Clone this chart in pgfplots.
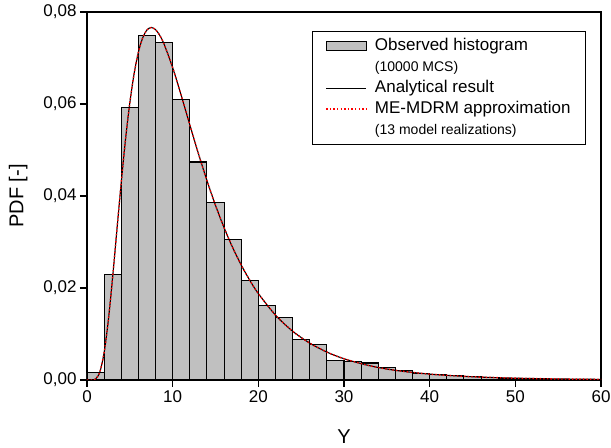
\documentclass[border=0pt]{standalone}
\usepackage{fontspec}
\setmainfont{Liberation Sans}
\usepackage{pgfplots}
\pgfplotsset{compat=1.18}
\definecolor{bargray}{RGB}{192,192,192}
\pgfplotsset{
  barlegend/.style={legend image code/.code={\draw[fill=bargray, draw=black, line width=1.1bp] (0bp,-4.5bp) rectangle (40bp,4.5bp);}},
  blacklegend/.style={legend image code/.code={\draw[draw=black, line width=1.1bp] (0bp,0bp) -- (40bp,0bp);}},
  redlegend/.style={legend image code/.code={\draw[draw=red, line width=1.4bp, dash pattern=on 1.4bp off 2.2bp] (0bp,0bp) -- (40bp,0bp);}},
}
\begin{document}
\begin{tikzpicture}
\begin{axis}[
  scale only axis,
  width=514bp, height=368bp,
  xmin=0, xmax=60, ymin=0, ymax=0.08,
  xtick={0,10,...,60},
  ytick={0,0.02,0.04,0.06,0.08},
  yticklabels={{0,00},{0,02},{0,04},{0,06},{0,08}},
  /pgf/number format/assume math mode=true,
  scaled y ticks=false,
  tick align=outside,
  tick pos=left,
  major tick length=7bp,
  axis line style={line width=1.4bp},
  every tick/.style={line width=1.2bp, black},
  tick label style={font=\fontsize{17bp}{20bp}\selectfont},
  label style={font=\fontsize{20bp}{24bp}\selectfont},
  xlabel={Y},
  ylabel={PDF [-]},
  x label style={at={(axis description cs:0.5,-0.155)}, anchor=center},
  y label style={at={(axis description cs:-0.134,0.5)}, anchor=center},
  legend style={
    at={(rel axis cs:0.4377,0.948)}, anchor=north west,
    draw=black, line width=1.2bp, fill=white,
    font=\fontsize{17bp}{20bp}\selectfont,
    inner xsep=13bp, inner ysep=4bp,
    row sep=0bp,
    nodes={text height=13bp, text depth=4bp},
    /tikz/every odd column/.append style={column sep=6bp},
  },
  legend cell align=left,
]
\coordinate (SW) at (rel axis cs:0,0);
\coordinate (NE) at (rel axis cs:1,1);

\addplot[ybar interval, fill=bargray, draw=black, line width=1.1bp, barlegend]
coordinates {
(0,0.0016) (2,0.0230) (4,0.0593) (6,0.0749) (8,0.0734) (10,0.0609)
(12,0.0474) (14,0.0386) (16,0.0305) (18,0.0217) (20,0.0162) (22,0.0136)
(24,0.0089) (26,0.0077) (28,0.0042) (30,0.0040) (32,0.0037) (34,0.0027)
(36,0.0020) (38,0.0014) (40,0.0012) (42,0.0009) (44,0.0007) (46,0.0005)
(48,0.0004) (50,0.0003) (52,0.0002) (54,0.0002) (56,0.0001) (58,0.0001)
(60,0.0001)
};
\addlegendentry{Observed histogram}
\addlegendimage{empty legend}
\addlegendentry{\fontsize{14bp}{17bp}\selectfont(10000 MCS)}

\addplot[black, line width=1.1bp, smooth, blacklegend]
coordinates {
(0,0) (0.5,0.000002) (1,0.000203) (1.5,0.00174) (2,0.00597) (2.5,0.01314)
(3,0.02250) (3.5,0.0328) (4,0.04298) (4.5,0.05236) (5,0.06027) (5.5,0.06658)
(6,0.07126) (6.5,0.07437) (7,0.07610) (7.5,0.07663) (8,0.07617) (8.5,0.07490)
(9,0.07300) (10,0.06790) (11,0.06185) (12,0.05549) (13,0.04925) (14,0.04336)
(15,0.03797) (16,0.03312) (17,0.02880) (18,0.02500) (19,0.02168) (20,0.01879)
(22,0.01411) (24,0.01061) (26,0.00801) (28,0.00607) (30,0.00462) (33,0.00310)
(36,0.00210) (40,0.00128) (45,0.000703) (50,0.000399) (55,0.000232) (60,0.000138)
};
\addlegendentry{Analytical result}

\addplot[red, line width=1.4bp, dash pattern=on 1.4bp off 2.2bp, smooth, redlegend]
coordinates {
(0,0) (0.5,0.000002) (1,0.000203) (1.5,0.00174) (2,0.00597) (2.5,0.01314)
(3,0.02250) (3.5,0.0328) (4,0.04298) (4.5,0.05236) (5,0.06027) (5.5,0.06658)
(6,0.07126) (6.5,0.07437) (7,0.07610) (7.5,0.07663) (8,0.07617) (8.5,0.07490)
(9,0.07300) (10,0.06790) (11,0.06185) (12,0.05549) (13,0.04925) (14,0.04336)
(15,0.03797) (16,0.03312) (17,0.02880) (18,0.02500) (19,0.02168) (20,0.01879)
(22,0.01411) (24,0.01061) (26,0.00801) (28,0.00607) (30,0.00462) (33,0.00310)
(36,0.00210) (40,0.00128) (45,0.000703) (50,0.000399) (55,0.000232) (60,0.000138)
};
\addlegendentry{ME-MDRM approximation}
\addlegendimage{empty legend}
\addlegendentry{\fontsize{14bp}{17bp}\selectfont(13 model realizations)}
\end{axis}
\pgfresetboundingbox
\path ([shift={(-87bp,-68bp)}]SW) rectangle ([shift={(10bp,12bp)}]NE);
\end{tikzpicture}
\end{document}
